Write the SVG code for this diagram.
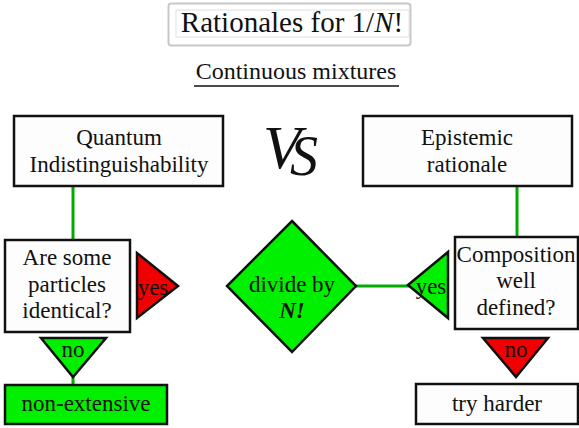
<svg xmlns="http://www.w3.org/2000/svg" width="579" height="428" viewBox="0 0 579 428" font-family="'Liberation Serif', 'DejaVu Serif', serif">
<style>
text{fill:#111;text-anchor:middle}
.t{font-size:23px}
.box{fill:#fdfdfd;stroke:#111;stroke-width:2.5}
.green{fill:#00f000;stroke:#111;stroke-width:2.5}
.red{fill:#f00000;stroke:#111;stroke-width:2.5}
.conn{stroke:#00aa00;stroke-width:3;fill:none}
</style>
<rect width="579" height="428" fill="#fff"/>
<g id="title">
<rect x="168.5" y="3.5" width="242" height="42" rx="3" fill="#fff" stroke="#c8c8c8" stroke-width="2"/>
<rect x="176" y="10" width="233" height="27" fill="none" stroke="#e0e0e0" stroke-width="1"/>
<text x="292" y="32" style="font-size:29px">Rationales for 1/<tspan font-style="italic">N</tspan>!</text>
</g>
<g id="subtitle">
<text x="296" y="79" style="font-size:24px">Continuous mixtures</text>
<line x1="194" y1="86" x2="399" y2="86" stroke="#111" stroke-width="1.3"/>
</g>
<g id="connectors">
<line class="conn" x1="73" y1="187" x2="73" y2="240"/>
<line class="conn" x1="517" y1="187" x2="517" y2="237"/>
<line class="conn" x1="73" y1="377" x2="73" y2="385"/>
<line class="conn" x1="356" y1="286" x2="410" y2="286"/>
</g>
<g id="quantum">
<rect class="box" x="14" y="116" width="209" height="70"/>
<text class="t" x="119" y="145">Quantum</text>
<text class="t" x="119" y="172">Indistinguishability</text>
</g>
<g id="vs">
<text x="263" y="168" style="font-size:62px;font-style:italic;text-anchor:start">V<tspan dx="-11" dy="7" style="font-size:56px">S</tspan></text>
</g>
<g id="epistemic">
<rect class="box" x="363" y="116" width="209" height="70"/>
<text class="t" x="467" y="145">Epistemic</text>
<text class="t" x="467" y="172">rationale</text>
</g>
<g id="identical">
<rect class="box" x="5" y="240" width="125" height="92"/>
<text class="t" x="67" y="265">Are some</text>
<text class="t" x="67" y="292">particles</text>
<text class="t" x="67" y="318">identical?</text>
</g>
<g id="yes-left">
<polygon class="red" points="137,253 137,318 178,286"/>
<text class="t" x="153" y="295">yes</text>
</g>
<g id="no-left">
<polygon class="green" points="41,338 106,338 73,377"/>
<text class="t" x="73" y="357">no</text>
</g>
<g id="nonextensive">
<rect class="green" x="5" y="385" width="162" height="39"/>
<text class="t" x="86" y="411">non-extensive</text>
</g>
<g id="divide">
<polygon class="green" points="292,221 356,286 292,352 227,286"/>
<text class="t" x="292" y="292">divide by</text>
<text class="t" x="292" y="318" style="font-weight:bold;font-style:italic">N!</text>
</g>
<g id="yes-right">
<polygon class="green" points="408,285 448,252 448,318"/>
<text class="t" x="431" y="294">yes</text>
</g>
<g id="composition">
<rect class="box" x="455" y="237" width="123" height="92"/>
<text class="t" x="516" y="262">Composition</text>
<text class="t" x="516" y="288">well</text>
<text class="t" x="516" y="315">defined?</text>
</g>
<g id="no-right">
<polygon class="red" points="483,338 548,338 516,377"/>
<text class="t" x="516" y="357">no</text>
</g>
<g id="tryharder">
<rect class="box" x="416" y="384" width="162" height="40"/>
<text class="t" x="497" y="411">try harder</text>
</g>
</svg>
